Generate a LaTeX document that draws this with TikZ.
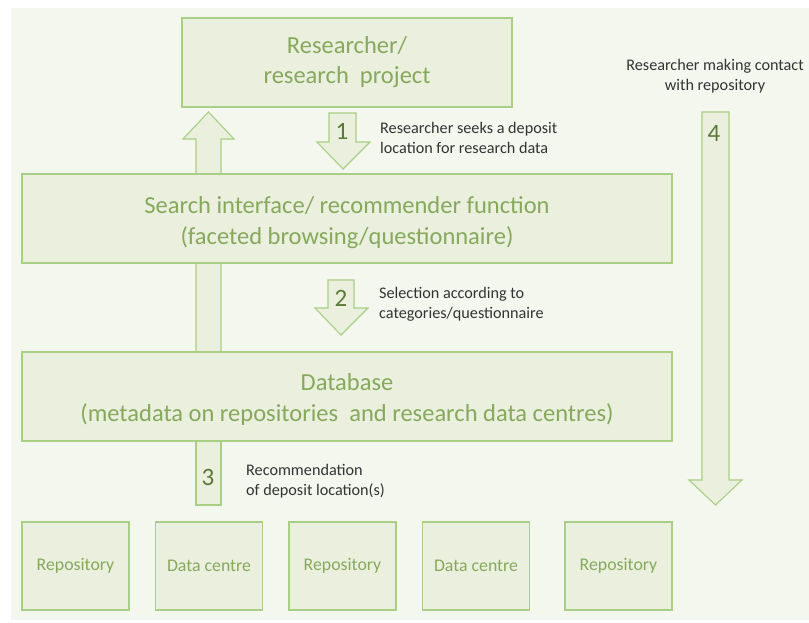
\documentclass[tikz,border=0pt]{standalone}
\usepackage{fontspec}
\setmainfont{Carlito}
\definecolor{bgc}{HTML}{F4F7EE}
\definecolor{boxfill}{HTML}{EAEFDE}
\definecolor{boxline}{HTML}{A8CF84}
\definecolor{greentext}{HTML}{86A95C}
\definecolor{numtext}{HTML}{5B7A38}
\definecolor{darktext}{HTML}{333333}
\begin{document}
\begin{tikzpicture}[x=1pt,y=-1pt,
  box/.style={draw=boxline,fill=boxfill,line width=1.1pt,inner sep=0pt,align=center,text=greentext},
  bigbox/.style={box,minimum width=650pt,minimum height=89pt},
  bigtext/.style={inner sep=0pt,align=center,text=greentext,font=\fontsize{24.5}{31}\selectfont},
  smallbox/.style={box,minimum width=107pt,minimum height=88pt,font=\fontsize{17.8}{20}\selectfont},
  blockarrow/.style={draw=boxline,fill=boxfill,line width=1.1pt,line join=miter},
  num/.style={text=numtext,font=\fontsize{25}{26}\selectfont,inner sep=0pt},
  note/.style={text=darktext,font=\fontsize{16.2}{20}\selectfont,inner sep=0pt,align=left}]
\useasboundingbox (0,0) rectangle (809,622);
\fill[bgc] (11,8) rectangle (809,620);
% up arrow behind the boxes
\draw[blockarrow] (196,352) -- (196,139) -- (183,139) -- (208.5,112) -- (234,139) -- (221,139) -- (221,352);
% arrow 4
\draw[blockarrow] (702,112) -- (729,112) -- (729,480) -- (742,480) -- (715.5,505) -- (689,480) -- (702,480) -- cycle;
\node[num] (n4) at (714,133) {4};
\node[text=darktext,font=\fontsize{16.2}{20}\selectfont,inner sep=0pt,align=center] (t4) at (715,76) {Researcher making contact\\with repository};
% boxes
\node[box,minimum width=330pt,minimum height=89pt,font=\fontsize{24.5}{30}\selectfont] (res) at (347,62.5) {Researcher/\\research\ \ project};
\node[bigbox] (search) at (347,218.5) {};
\node[bigtext] (searchtext) at ([yshift=-4.5pt]search.center) {Search interface/ recommender function\\(faceted browsing/questionnaire)};
\node[bigbox] (db) at (347,396.5) {};
\node[bigtext] (dbtext) at ([yshift=-2.5pt]db.center) {Database\\(metadata on repositories\ \ and research data centres)};
% arrow 1
\draw[blockarrow] (329,113) -- (356,113) -- (356,142) -- (370,142) -- (343,169) -- (317,142) -- (329,142) -- cycle;
\node[num] (n1) at (342,131) {1};
\node[note,anchor=west] (t1) at (380,138) {Researcher seeks a deposit\\location for research data};
% arrow 2
\draw[blockarrow] (328,280) -- (354,280) -- (354,308) -- (368,308) -- (341,335) -- (315,308) -- (328,308) -- cycle;
\node[num] (n2) at (341,298) {2};
\node[note,anchor=west] (t2) at (379,304) {Selection according to\\categories/questionnaire};
% arrow 3 (shaft only)
\draw[blockarrow] (196,441) rectangle (221,505);
\node[num] (n3) at (208,477) {3};
\node[note,anchor=west] (t3) at (246,481.5) {Recommendation\\of deposit location(s)};
% bottom boxes
\node[smallbox] (b1) at (75.5,566) {Repository};
\node[smallbox] (b2) at (209,566) {Data centre};
\node[smallbox] (b3) at (342.5,566) {Repository};
\node[smallbox] (b4) at (476,566) {Data centre};
\node[smallbox] (b5) at (618.5,566) {Repository};
\end{tikzpicture}
\end{document}
